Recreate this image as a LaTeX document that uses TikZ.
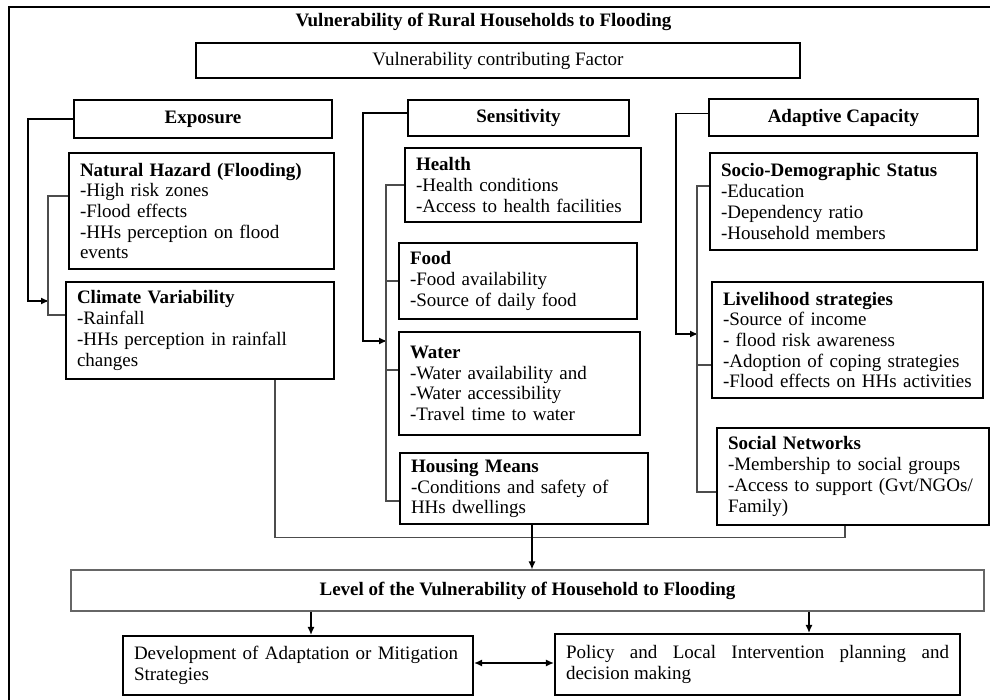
\documentclass[tikz,border=0pt]{standalone}
\usepackage{fontspec}
\setmainfont{Liberation Serif}
\usetikzlibrary{arrows.meta,positioning}
\begin{document}
\begin{tikzpicture}[x=1pt,y=-1pt,
  every node/.style={font=\fontsize{19}{20.7}\selectfont},
  box/.style n args={2}{draw,line width=2.2pt,minimum width=#1pt,minimum height=#2pt,text width=#1pt-22pt,inner xsep=11pt,inner ysep=2pt,align=left},
  head/.style n args={2}{draw,line width=2.2pt,minimum width=#1pt,minimum height=#2pt,inner sep=0pt},
  conn/.style={draw=black!70,line width=1.2pt},
  arrow/.style={draw=black,line width=1.2pt,-{Latex[length=8pt,width=7pt]}}]
\useasboundingbox (0,0) rectangle (990,700);
\draw[line width=2.2pt] (9,7) rectangle (1000,710);
\node[anchor=base,font=\fontsize{19}{20.7}\selectfont\bfseries] (title) at (483.5,27) {Vulnerability of Rural Households to Flooding};
\node[head={604}{35}] (factor) at (498,60.5) {Vulnerability contributing Factor};
% three factor heads
\node[head={258}{38}] (expo) at (203,119) {\textbf{Exposure}};
\node[head={221}{36}] (sens) at (518.5,118) {\textbf{Sensitivity}};
\node[head={269}{37}] (adapt) at (843.5,117.5) {\textbf{Adaptive Capacity}};
% exposure
\node[box={265}{116}] (hazard) at (201.5,211) {\textbf{Natural Hazard (Flooding)}\\-High risk zones\\-Flood effects\\-HHs perception on flood\\events};
\node[box={268}{97}] (climate) at (200,330.5) {\textbf{Climate Variability}\\-Rainfall\\-HHs perception in rainfall\\changes};
% sensitivity
\node[box={236}{74}] (health) at (523,185) {\textbf{Health}\\-Health conditions\\-Access to health facilities};
\node[box={238}{76}] (food) at (518,281) {\textbf{Food}\\-Food availability\\-Source of daily food};
\node[box={241}{103}] (water) at (519.5,383.5) {\textbf{Water}\\-Water availability and\\-Water accessibility\\-Travel time to water};
\node[box={248}{71}] (housing) at (524,488.5) {\textbf{Housing Means}\\-Conditions and safety of\\HHs dwellings};
% adaptive capacity
\node[box={267}{97}] (socio) at (843.5,201.5) {\textbf{Socio-Demographic Status}\\-Education\\-Dependency ratio\\-Household members};
\node[box={271}{116}] (liveli) at (847.5,340) {\textbf{Livelihood strategies}\\-Source of income\\- flood risk awareness\\-Adoption of coping strategies\\-Flood effects on HHs activities};
\node[box={272}{97}] (social) at (853,476.5) {\textbf{Social Networks}\\-Membership to social groups\\-Access to support (Gvt/NGOs/\\Family)};
% outcome
\node[head={913}{41},draw=black!60,line width=1.2pt] (level) at (527.5,590.5) {\textbf{Level of the Vulnerability of Household to Flooding}};
\node[box={350}{59}] (develop) at (298,665.5) {Development of Adaptation or Mitigation\\Strategies};
\node[box={405}{61},align=justify] (policy) at (757.5,664.5) {Policy and Local Intervention planning and\linebreak decision making};
\coordinate (expoJoin) at (49,301);
\coordinate (sensJoin) at (387,341);
\coordinate (adaptJoin) at (698,334);
% brackets
\draw[arrow] (expo.west) -- ++(-45,0) |- (expoJoin);
\draw[conn] ([yshift=15pt]hazard.west) -- ++(-20,0) |- ([yshift=15.5pt]climate.west);
\draw[arrow] ([yshift=5pt]sens.west) -- ++(-44,0) |- (sensJoin);
\draw[conn] (health.west) -- ++(-18,0) |- ([yshift=-12.5pt]housing.west);
\draw[conn] (food.west) -- ++(-12,0);
\draw[conn] ([yshift=13.5pt]water.west) -- ++(-12,0);
\draw[arrow] ([yshift=4pt]adapt.west) -- ++(-32,0) |- (adaptJoin);
\draw[conn] ([yshift=15.5pt]socio.west) -- ++(-12,0) |- ([yshift=-15.5pt]social.west);
\draw[conn] ([yshift=-25pt]liveli.west) -- ++(-14,0);
% to the level of vulnerability
\draw[conn] ([xshift=75pt]climate.south) -- ++(0,157) -| ([xshift=-8pt]social.south);
\draw[arrow] ([xshift=8pt]housing.south) -- ([xshift=8pt]housing.south |- level.north);
\draw[arrow] ([xshift=13pt]develop.north |- level.south) -- ([xshift=13pt]develop.north);
\draw[arrow] ([xshift=51.5pt]policy.north |- level.south) -- ([xshift=51.5pt]policy.north);
\draw[arrow,{Latex[length=8pt,width=7pt]}-{Latex[length=8pt,width=7pt]}] ([yshift=2.5pt]develop.east) -- ([yshift=2.5pt]develop.east -| policy.west);
\end{tikzpicture}
\end{document}
